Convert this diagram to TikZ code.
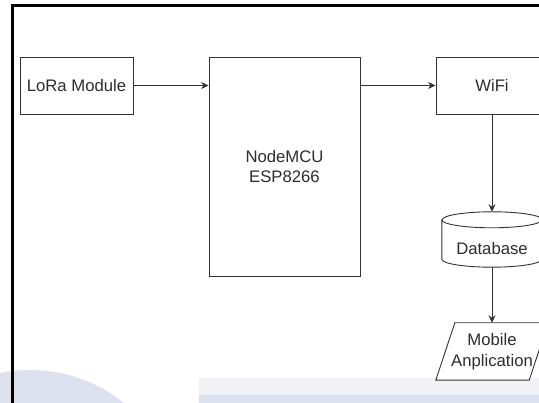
\documentclass[tikz,border=0pt]{standalone}
\usepackage{fontspec}
\setmainfont{Liberation Sans}
\usetikzlibrary{arrows.meta}
\definecolor{linegray}{RGB}{51,51,51}
\definecolor{textgray}{RGB}{45,45,45}
\definecolor{markblue}{RGB}{221,225,238}
\definecolor{markgray}{RGB}{240,241,244}
\begin{document}
\begin{tikzpicture}[x=1pt,y=1pt,
   every node/.style =
   {   align=center, inner sep=0pt,
       text=textgray,
       font=\fontsize{16.7}{20.5}\selectfont,
   },
   box/.style = {shape=rectangle, draw=linegray, line width=0.9pt, fill=white},
   ghost/.style = {shape=rectangle, minimum width=112pt, minimum height=57pt},
   outline/.style = {draw=linegray, line width=0.9pt, fill=white},
   link/.style = {draw=linegray, line width=0.9pt, -{Stealth[length=7.5pt,width=7pt]}}
  ]
\clip (0,0) rectangle (539,403);
% watermark behind the page
\fill[markgray] (199,0) rectangle (539,25);
\fill[markblue] (199,0) rectangle (539,8);
\fill[markblue] (30,-117) circle (150);
% page frame
\draw[line width=2.3pt] (12.5,-10) |- (560,397.5);

\node[box, minimum width=113pt, minimum height=57pt] (lora) at (76.5,317.5) {LoRa Module};
\node[box, minimum width=151pt, minimum height=219pt] (nodemcu) at (284.5,236.5) {NodeMCU\\ESP8266};
\node[box, minimum width=112pt, minimum height=57pt] (wifi) at (492,317.5) {WiFi};

% database cylinder
\node[ghost, minimum width=100pt, minimum height=55pt] (database) at (492,163.5) {};
\path[outline] ([yshift=-8pt]database.north west) -- ([yshift=8pt]database.south west)
    arc[start angle=180, end angle=360, x radius=50pt, y radius=8pt]
    -- ([yshift=-8pt]database.north east)
    arc[start angle=0, end angle=180, x radius=50pt, y radius=8pt] -- cycle;
\draw[linegray, line width=0.9pt] ([yshift=-8pt]database.north west)
    arc[start angle=180, end angle=360, x radius=50pt, y radius=8pt];
\node (dblabel) at ([yshift=-9pt]database.center) {Database};

% mobile application
\node[ghost] (mobile) at (492,51.5) {};
\path[outline] (mobile.south west) -- ([xshift=-19pt]mobile.south east)
    -- (mobile.north east) -- ([xshift=19pt]mobile.north west) -- cycle;
\node (moblabel) at (mobile.center) {Mobile\\Anplication};

\draw[link] (lora) -- (lora -| nodemcu.west);
\draw[link] (nodemcu.east |- wifi) -- (wifi.west);
\draw[link] (wifi) -- (database);
\draw[link] (database) -- (mobile);
\end{tikzpicture}
\end{document}
